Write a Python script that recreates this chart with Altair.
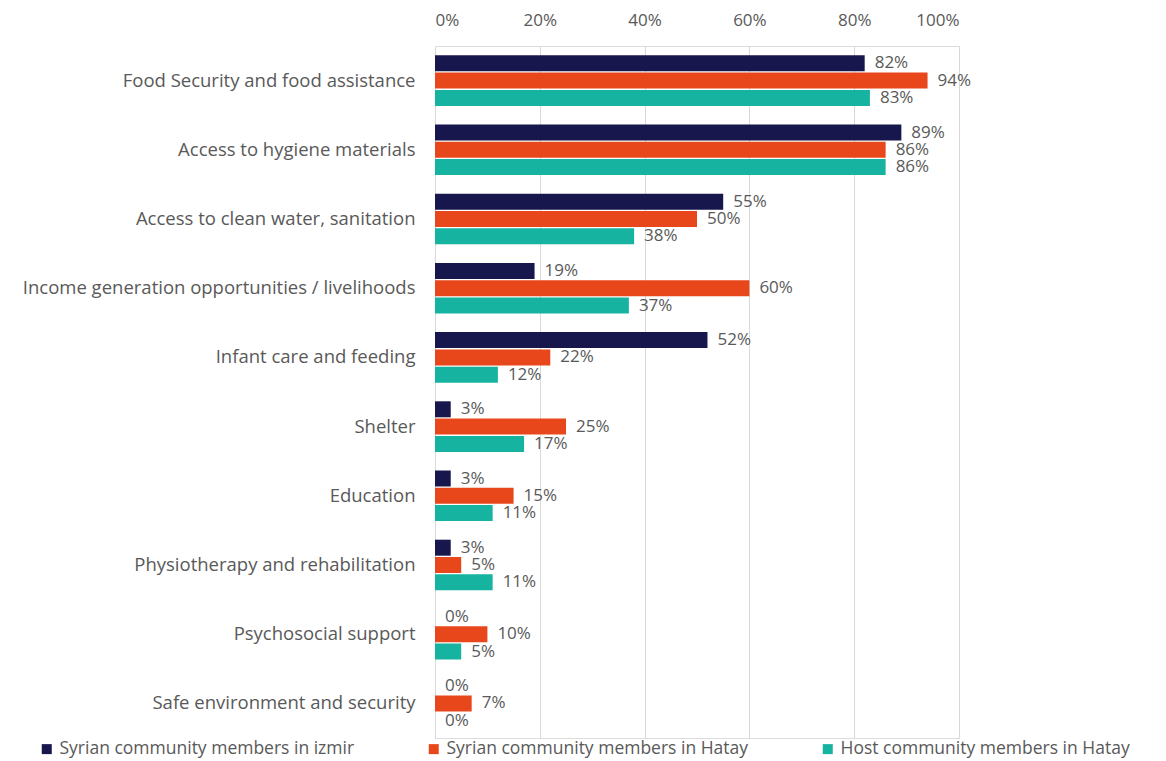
import altair as alt
import pandas as pd

categories = [
    "Food Security and food assistance",
    "Access to hygiene materials",
    "Access to clean water, sanitation",
    "Income generation opportunities / livelihoods",
    "Infant care and feeding",
    "Shelter",
    "Education",
    "Physiotherapy and rehabilitation",
    "Psychosocial support",
    "Safe environment and security",
]
series = [
    "Syrian community members in izmir",
    "Syrian community members in Hatay",
    "Host community members in Hatay",
]
izmir = [82, 89, 55, 19, 52, 3, 3, 3, 0, 0]
hatay_syrian = [94, 86, 50, 60, 22, 25, 15, 5, 10, 7]
hatay_host = [83, 86, 38, 37, 12, 17, 11, 11, 5, 0]
colors = ["#17164d", "#e8461b", "#15b3a0"]

rows = []
for vals, s in zip([izmir, hatay_syrian, hatay_host], series):
    for c, v in zip(categories, vals):
        rows.append({"category": c, "series": s, "value": v / 100, "label": f"{v}%"})
df = pd.DataFrame(rows)

FONT = "Open Sans"
GRAY = "#595959"

y_enc = alt.Y("category:N", sort=categories, title=None,
              scale=alt.Scale(paddingInner=0.25, paddingOuter=0.125),
              axis=alt.Axis(labelFontSize=18.5, labelColor=GRAY, labelFont=FONT,
                            ticks=False, domain=False, labelPadding=20, labelLimit=500))
x_enc = alt.X("value:Q", title=None,
              scale=alt.Scale(domain=[0, 1]),
              axis=alt.Axis(orient="top", format=".0%", values=[0, 0.2, 0.4, 0.6, 0.8, 1.0],
                            labelFontSize=17, labelColor=GRAY, labelFont=FONT,
                            ticks=False, domain=False, grid=True, gridColor="#d9d9d9",
                            labelPadding=17))
color_enc = alt.Color("series:N", sort=series,
                      scale=alt.Scale(domain=series, range=colors),
                      legend=alt.Legend(title=None, orient="none", legendX=-397, legendY=694,
                                        direction="horizontal", columns=3, symbolType="square",
                                        symbolSize=100, labelFontSize=17.5, labelColor=GRAY,
                                        labelFont=FONT, columnPadding=70, labelLimit=500,
                                        symbolStrokeWidth=0))
yoff = alt.YOffset("series:N", sort=series)

bars = alt.Chart(df).mark_bar(size=16).encode(
    y=y_enc, x=x_enc, color=color_enc, yOffset=yoff
)
labels = alt.Chart(df).mark_text(align="left", baseline="middle", dx=10, fontSize=17,
                                 color=GRAY, font=FONT).encode(
    y=alt.Y("category:N", sort=categories), x="value:Q", yOffset=yoff, text="label:N"
)

chart = (bars + labels).properties(
    width=524, height=692,
    autosize=alt.AutoSizeParams(type="none"),
    padding={"left": 427, "top": 38, "right": 190, "bottom": 20},
).configure_view(strokeWidth=0, stroke="transparent").configure(font=FONT)

chart.save("out.html", embed_options={"renderer": "svg", "actions": False})
